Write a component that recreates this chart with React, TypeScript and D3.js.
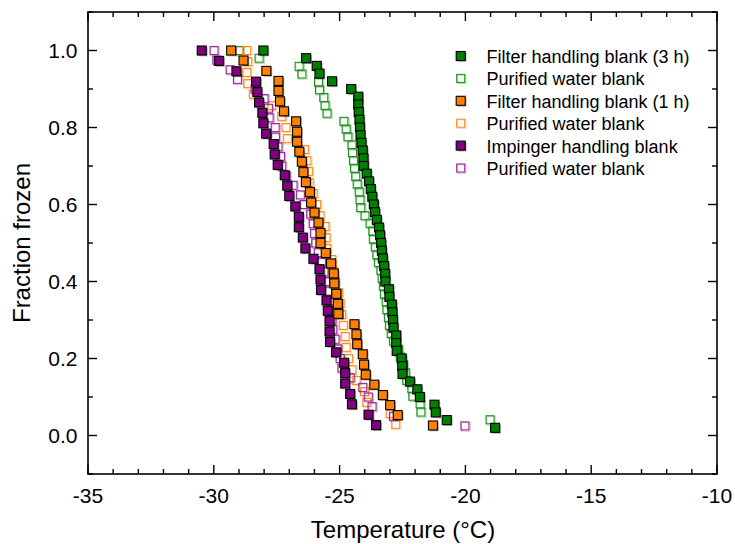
import React from "react";
import * as d3 from "d3";

// Temperature (°C) and fraction frozen for each series
const greenFilledT = [-28.03, -26.33, -25.91, -25.8, -25.3, -24.54, -24.26, -24.26, -24.24, -24.21, -24.19, -24.17, -24.13, -24.08, -24.05, -24.04, -23.92, -23.83, -23.76, -23.7, -23.64, -23.59, -23.52, -23.43, -23.39, -23.35, -23.32, -23.28, -23.23, -23.19, -23.18, -23.04, -23.02, -22.92, -22.9, -22.88, -22.86, -22.75, -22.75, -22.73, -22.53, -22.51, -22.5, -22.2, -21.91, -21.81, -21.23, -21.18, -20.74, -18.82];
const greenFilledF = [1.0, 0.98, 0.96, 0.94, 0.92, 0.9, 0.88, 0.86, 0.84, 0.82, 0.8, 0.78, 0.76, 0.74, 0.72, 0.7, 0.68, 0.66, 0.64, 0.62, 0.6, 0.58, 0.56, 0.54, 0.52, 0.5, 0.48, 0.46, 0.44, 0.42, 0.4, 0.38, 0.36, 0.34, 0.32, 0.3, 0.28, 0.26, 0.24, 0.22, 0.2, 0.18, 0.16, 0.14, 0.12, 0.1, 0.08, 0.06, 0.04, 0.02];

const greenOpenT = [-28.98, -28.2, -26.61, -26.5, -25.84, -25.8, -25.63, -25.58, -25.5, -24.83, -24.74, -24.67, -24.51, -24.49, -24.45, -24.41, -24.36, -24.3, -24.22, -24.19, -24.16, -23.99, -23.79, -23.68, -23.66, -23.58, -23.52, -23.46, -23.36, -23.31, -23.26, -23.22, -23.15, -23.12, -23.06, -23.02, -22.95, -22.86, -22.66, -22.59, -22.46, -22.39, -22.33, -22.13, -22.09, -21.8, -21.77, -19.02];
const greenOpenF = [1.0, 0.98, 0.959, 0.939, 0.918, 0.898, 0.878, 0.857, 0.837, 0.816, 0.796, 0.776, 0.755, 0.735, 0.714, 0.694, 0.673, 0.653, 0.633, 0.612, 0.592, 0.571, 0.551, 0.531, 0.51, 0.49, 0.469, 0.449, 0.429, 0.408, 0.388, 0.367, 0.347, 0.327, 0.306, 0.286, 0.265, 0.245, 0.224, 0.204, 0.184, 0.163, 0.143, 0.122, 0.102, 0.082, 0.061, 0.041];

const orangeFilledT = [-29.31, -28.82, -27.91, -27.43, -27.43, -27.37, -27.21, -26.73, -26.69, -26.69, -26.6, -26.5, -26.44, -26.34, -26.18, -26.13, -26.0, -25.84, -25.76, -25.76, -25.55, -25.34, -25.23, -25.21, -25.13, -25.07, -25.05, -24.41, -24.33, -24.3, -24.08, -24.03, -23.96, -23.62, -23.28, -22.99, -22.69, -21.29];
const orangeFilledF = [1.0, 0.974, 0.947, 0.921, 0.895, 0.868, 0.842, 0.816, 0.789, 0.763, 0.737, 0.711, 0.684, 0.658, 0.632, 0.605, 0.579, 0.553, 0.526, 0.5, 0.474, 0.447, 0.421, 0.395, 0.368, 0.342, 0.316, 0.289, 0.263, 0.237, 0.211, 0.184, 0.158, 0.132, 0.105, 0.079, 0.053, 0.026];

const orangeOpenT = [-28.69, -28.65, -28.69, -28.65, -28.43, -27.7, -27.3, -27.13, -27.08, -26.4, -26.3, -26.24, -26.21, -26.05, -25.91, -25.78, -25.58, -25.54, -25.51, -25.31, -25.27, -25.18, -25.05, -24.98, -24.92, -24.85, -24.78, -24.74, -24.65, -24.51, -24.34, -24.01, -23.92, -22.99, -22.77];
const orangeOpenF = [1.0, 0.971, 0.943, 0.914, 0.886, 0.857, 0.829, 0.8, 0.771, 0.743, 0.714, 0.686, 0.657, 0.629, 0.6, 0.571, 0.543, 0.514, 0.486, 0.457, 0.429, 0.4, 0.371, 0.343, 0.314, 0.286, 0.257, 0.229, 0.2, 0.171, 0.143, 0.114, 0.086, 0.057, 0.029];

const purpleFilledT = [-30.48, -29.79, -29.1, -28.32, -28.27, -28.2, -28.07, -28.03, -27.92, -27.62, -27.58, -27.46, -27.18, -27.08, -27.0, -26.76, -26.62, -26.62, -26.46, -26.36, -26.04, -25.8, -25.76, -25.74, -25.52, -25.47, -25.4, -25.4, -25.38, -25.14, -24.82, -24.78, -24.78, -24.58, -24.51, -23.85, -23.55];
const purpleFilledF = [1.0, 0.973, 0.946, 0.919, 0.892, 0.865, 0.838, 0.811, 0.784, 0.757, 0.73, 0.703, 0.676, 0.649, 0.622, 0.595, 0.568, 0.541, 0.514, 0.486, 0.459, 0.432, 0.405, 0.378, 0.351, 0.324, 0.297, 0.27, 0.243, 0.216, 0.189, 0.162, 0.135, 0.108, 0.081, 0.054, 0.027];

const purpleOpenT = [-29.99, -29.88, -29.35, -29.06, -28.36, -28.0, -27.83, -27.8, -27.56, -27.55, -27.45, -27.35, -27.3, -27.13, -26.85, -26.56, -26.41, -26.15, -26.05, -26.0, -25.95, -25.85, -25.72, -25.62, -25.55, -25.48, -25.4, -25.33, -25.3, -25.27, -25.18, -25.09, -24.98, -24.91, -24.58, -24.08, -23.86, -23.71, -22.86, -20.02];
const purpleOpenF = [1.0, 0.975, 0.95, 0.925, 0.9, 0.875, 0.85, 0.825, 0.8, 0.775, 0.75, 0.725, 0.7, 0.675, 0.65, 0.625, 0.6, 0.575, 0.55, 0.525, 0.5, 0.475, 0.45, 0.425, 0.4, 0.375, 0.35, 0.325, 0.3, 0.275, 0.25, 0.225, 0.2, 0.175, 0.15, 0.125, 0.1, 0.075, 0.05, 0.025];

const legendLabels = [
  "Filter handling blank (3 h)",
  "Purified water blank",
  "Filter handling blank (1 h)",
  "Purified water blank",
  "Impinger handling blank",
  "Purified water blank",
];

const xTickValues = [-35, -30, -25, -20, -15, -10];
const xTickLabels = ["-35", "-30", "-25", "-20", "-15", "-10"];
const yTickValues = [0, 0.2, 0.4, 0.6, 0.8, 1.0];
const yTickLabels = ["0.0", "0.2", "0.4", "0.6", "0.8", "1.0"];

const W = 735;
const H = 544;
const L = 88, R = 717, T = 12, B = 474;
const FONT = "'Liberation Sans', Arial, Helvetica, sans-serif";

type Series = { t: number[]; f: number[]; color: string; filled: boolean };

const series: Series[] = [
  { t: greenFilledT, f: greenFilledF, color: "#008000", filled: true },
  { t: greenOpenT, f: greenOpenF, color: "#1f951f", filled: false },
  { t: orangeFilledT, f: orangeFilledF, color: "#ff8000", filled: true },
  { t: orangeOpenT, f: orangeOpenF, color: "#ff8c1a", filled: false },
  { t: purpleFilledT, f: purpleFilledF, color: "#800080", filled: true },
  { t: purpleOpenT, f: purpleOpenF, color: "#9a2a9a", filled: false },
];

const S = 9; // marker size

function Marker({ x, y, color, filled }: { x: number; y: number; color: string; filled: boolean }) {
  if (filled) {
    return (
      <g>
        <rect x={x - S / 2 + 1.3} y={y - S / 2 + 1.3} width={S} height={S} fill="#000" fillOpacity={0.35} />
        <rect x={x - S / 2} y={y - S / 2} width={S} height={S} fill={color} stroke="#000" strokeWidth={1.1} />
      </g>
    );
  }
  return (
    <g>
      <rect x={x - S / 2 + 1.2} y={y - S / 2 + 1.2} width={S - 0.5} height={S - 0.5} fill="none" stroke={color} strokeOpacity={0.35} strokeWidth={1.1} />
      <rect x={x - S / 2 + 0.5} y={y - S / 2 + 0.5} width={S - 1} height={S - 1} fill="none" stroke={color} strokeWidth={1.1} />
    </g>
  );
}

export default function App() {
  const x = d3.scaleLinear().domain([-35, -10]).range([L, R]);
  const y = d3.scaleLinear().domain([-0.1, 1.1]).range([B, T]);
  const xMinor = d3.range(-35, -9.5, 1);
  const yMinor = d3.range(-1, 12).map((v) => v / 10);

  const drawOrder = [1, 3, 5, 4, 2, 0];

  return (
    <svg width={W} height={H} style={{ position: "absolute", left: 0, top: 0, background: "#fff" }} fontFamily={FONT}>
      <rect x={0} y={0} width={W} height={H} fill="#fff" />
      {/* data */}
      {drawOrder.map((si) => {
        const s = series[si];
        return (
          <g key={si}>
            {s.t.map((tv, i) => (
              <Marker key={i} x={x(tv)} y={y(s.f[i])} color={s.color} filled={s.filled} />
            ))}
          </g>
        );
      })}
      {/* frame */}
      <rect x={L} y={T} width={R - L} height={B - T} fill="none" stroke="#000" strokeWidth={1.6} />
      {/* x ticks */}
      {xMinor.map((v) => {
        const major = Math.abs(v % 5) < 1e-9;
        const len = major ? 9 : 5;
        return (
          <g key={"xt" + v}>
            <line x1={x(v)} x2={x(v)} y1={B} y2={B - len} stroke="#000" strokeWidth={1.4} />
            <line x1={x(v)} x2={x(v)} y1={T} y2={T + len} stroke="#000" strokeWidth={1.4} />
          </g>
        );
      })}
      {yMinor.map((v) => {
        const major = Math.round(v * 10) % 2 === 0;
        const len = major ? 9 : 5;
        return (
          <g key={"yt" + v}>
            <line x1={L} x2={L + len} y1={y(v)} y2={y(v)} stroke="#000" strokeWidth={1.4} />
            <line x1={R} x2={R - len} y1={y(v)} y2={y(v)} stroke="#000" strokeWidth={1.4} />
          </g>
        );
      })}
      {xTickValues.map((v, i) => (
        <text key={"xl" + v} x={x(v)} y={502.5} textAnchor="middle" fontSize={21} fill="#000">
          {xTickLabels[i]}
        </text>
      ))}
      {yTickValues.map((v, i) => (
        <text key={"yl" + v} x={77.5} y={y(v) + 7.5} textAnchor="end" fontSize={21} fill="#000">
          {yTickLabels[i]}
        </text>
      ))}
      {/* axis titles */}
      <text x={(L + R) / 2 + 0.5} y={538} textAnchor="middle" fontSize={24} fill="#000">
        Temperature (°C)
      </text>
      <text transform={`translate(30,${(T + B) / 2}) rotate(-90)`} textAnchor="middle" fontSize={24} fill="#000">
        Fraction frozen
      </text>
      {/* legend */}
      {series.map((s, i) => {
        const ly = 56 + i * 22.4;
        return (
          <g key={"lg" + i}>
            <Marker x={460.7} y={ly} color={s.color} filled={s.filled} />
            <text x={486.5} y={ly + 7} fontSize={18} fill="#000">
              {legendLabels[i]}
            </text>
          </g>
        );
      })}
    </svg>
  );
}
